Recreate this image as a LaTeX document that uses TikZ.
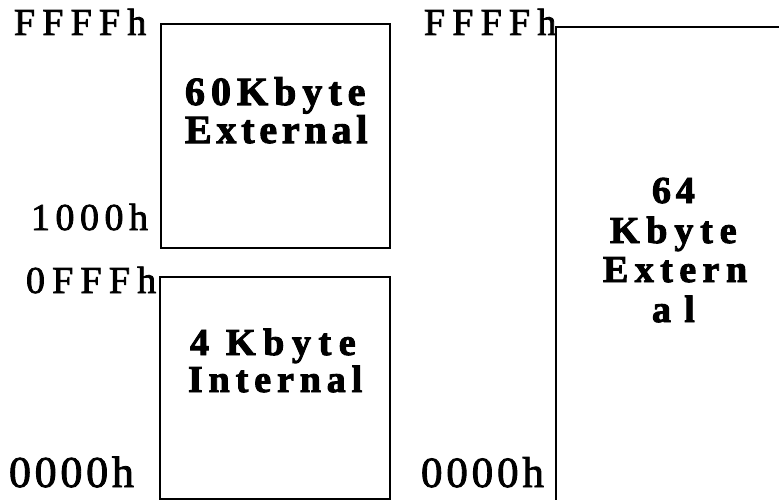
\documentclass[tikz,border=0pt]{standalone}
\usepackage{fontspec}
\setmainfont{Liberation Serif}
\newfontfamily\labfont{Liberation Serif}[FakeBold=2]
\newfontfamily\boxfont{Liberation Serif}[BoldFeatures={FakeBold=2.5}]
\newcommand\labtxt[3]{\labfont\fontsize{#1}{#1}\selectfont\addfontfeature{LetterSpace=#2}#3}
\newcommand\boxtxt[3]{\boxfont\bfseries\fontsize{#1}{#1}\selectfont\addfontfeature{LetterSpace=#2}#3}
\tikzset{
  txt/.style={anchor=base west, inner sep=0pt, outer sep=0pt},
  memline/.style={draw=black, line width=2.2pt}
}
\begin{document}
\begin{tikzpicture}[x=1pt,y=-1pt]
\useasboundingbox (0,0) rectangle (779,500);
\fill[white] (0,0) rectangle (779,500);
\clip (0,0) rectangle (779,500);
% memory boxes
\draw[memline] (161,24) rectangle (390,248);
\draw[memline] (160,277) rectangle (390,499);
\draw[memline] (556,27) rectangle (800,520);
% address labels
\node[txt] (lFFFF) at (14,35) {\labtxt{38}{19}{FFFFh}};
\node[txt] (l1000) at (31,230) {\labtxt{38}{14.5}{1000h}};
\node[txt] (l0FFF) at (26,293) {\labtxt{38}{19}{0FFFh}};
\node[txt] (l0000) at (9,487) {\labtxt{44}{8.5}{0000h}};
\node[txt] (rFFFF) at (424,35) {\labtxt{38}{19}{FFFFh}};
\node[txt] (r0000) at (421,487) {\labtxt{43}{9}{0000h}};
% box texts
\node[txt] (ext1) at (185,105) {\boxtxt{40}{15}{60Kbyte}};
\node[txt] (ext2) at (185,143) {\boxtxt{40}{12}{External}};
\node[txt] (int1) at (190,355) {\boxtxt{38}{20}{4 Kbyte}};
\node[txt] (int2) at (188,392) {\boxtxt{38}{15.5}{Internal}};
\node[txt] (ee1) at (652,203) {\boxtxt{38}{13}{64}};
\node[txt] (ee2) at (610,243) {\boxtxt{38}{18}{Kbyte}};
\node[txt] (ee3) at (603,282) {\boxtxt{38}{17}{Extern}};
\node[txt] (ee4) at (652,322) {\boxtxt{38}{35}{al}};
\end{tikzpicture}
\end{document}
